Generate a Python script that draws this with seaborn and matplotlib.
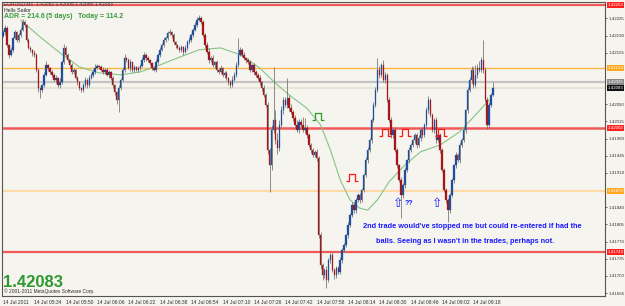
import numpy as np
import pandas as pd
import matplotlib
matplotlib.use("Agg")
import matplotlib.pyplot as plt
import matplotlib.transforms as mtransforms
from matplotlib.path import Path
import seaborn as sns

# ---------------- data (EURUSD M1, 14 Jul 2011, from 05:18) ----------------
first_open = 1.42190
close = [
    1.42197, 1.42206, 1.42171, 1.42151, 1.42161, 1.42185, 1.42197, 1.42181, 1.42191, 1.42202,
    1.42218, 1.42212, 1.42181, 1.42165, 1.42161, 1.42155, 1.42151, 1.42120, 1.42083, 1.42079,
    1.42089, 1.42110, 1.42130, 1.42124, 1.42116, 1.42110, 1.42100, 1.42104, 1.42089, 1.42095,
    1.42136, 1.42165, 1.42151, 1.42140, 1.42130, 1.42116, 1.42120, 1.42104, 1.42095, 1.42083,
    1.42079, 1.42089, 1.42100, 1.42089, 1.42104, 1.42110, 1.42116, 1.42124, 1.42128, 1.42126,
    1.42120, 1.42116, 1.42120, 1.42110, 1.42116, 1.42104, 1.42089, 1.42075, 1.42059, 1.42083,
    1.42100, 1.42120, 1.42144, 1.42140, 1.42124, 1.42136, 1.42120, 1.42126, 1.42120, 1.42124,
    1.42128, 1.42140, 1.42151, 1.42144, 1.42140, 1.42134, 1.42124, 1.42120, 1.42136, 1.42151,
    1.42161, 1.42171, 1.42181, 1.42185, 1.42195, 1.42197, 1.42191, 1.42177, 1.42171, 1.42165,
    1.42161, 1.42167, 1.42157, 1.42165, 1.42177, 1.42181, 1.42191, 1.42202, 1.42212, 1.42222,
    1.42226, 1.42218, 1.42191, 1.42171, 1.42157, 1.42140, 1.42144, 1.42130, 1.42136, 1.42120,
    1.42116, 1.42124, 1.42110, 1.42114, 1.42104, 1.42095, 1.42089, 1.42100, 1.42110, 1.42130,
    1.42151, 1.42161, 1.42151, 1.42144, 1.42140, 1.42136, 1.42120, 1.42130, 1.42116, 1.42110,
    1.42104, 1.42095, 1.42083, 1.42069, 1.42049, 1.41957, 1.41926, 1.41998, 1.42018, 1.41977,
    1.41961, 1.42008, 1.42038, 1.42059, 1.42049, 1.42063, 1.42042, 1.42034, 1.42022, 1.42008,
    1.41998, 1.42014, 1.42008, 1.41998, 1.42002, 1.41987, 1.41967, 1.41957, 1.41947, 1.41953,
    1.41940, 1.41783, 1.41722, 1.41702, 1.41712, 1.41692, 1.41732, 1.41743, 1.41712, 1.41702,
    1.41716, 1.41708, 1.41732, 1.41753, 1.41763, 1.41783, 1.41804, 1.41824, 1.41845, 1.41834,
    1.41855, 1.41865, 1.41855, 1.41875, 1.41906, 1.41936, 1.41957, 1.41977, 1.42018, 1.42049,
    1.42079, 1.42120, 1.42110, 1.42130, 1.42100, 1.42110, 1.42059, 1.42018, 1.41987, 1.41998,
    1.41957, 1.41926, 1.41896, 1.41865, 1.41885, 1.41916, 1.41936, 1.41957, 1.41967, 1.41977,
    1.41987, 1.41967, 1.41981, 1.41998, 1.41987, 1.42008, 1.42038, 1.42059, 1.42028, 1.41998,
    1.42018, 1.41977, 1.41987, 1.41957, 1.41916, 1.41875, 1.41855, 1.41834, 1.41865, 1.41896,
    1.41926, 1.41947, 1.41936, 1.41967, 1.41977, 1.41998, 1.42038, 1.42079, 1.42100, 1.42120,
    1.42089, 1.42110, 1.42124, 1.42120, 1.42140, 1.42120, 1.42059, 1.42008, 1.42049, 1.42069,
    1.42083,
]
upper_wick_pts = [
    4, 6, 3, 2, 5, 3, 4, 2, 5, 6,
    5, 3, 2, 4, 3, 2, 5, 3, 4, 3,
    3, 6, 8, 3, 2, 4, 3, 5, 2, 8,
    5, 7, 3, 4, 2, 5, 3, 2, 4, 3,
    2, 4, 6, 3, 5, 4, 6, 8, 4, 3,
    4, 5, 3, 4, 3, 2, 4, 3, 2, 6,
    4, 5, 8, 3, 4, 6, 3, 4, 3, 5,
    4, 6, 5, 3, 4, 2, 3, 4, 6, 4,
    5, 4, 6, 5, 4, 6, 3, 4, 3, 2,
    4, 3, 2, 5, 4, 6, 5, 4, 6, 5,
    6, 4, 3, 4, 5, 8, 4, 6, 3, 5,
    4, 6, 3, 4, 3, 2, 4, 8, 6, 6,
    34, 5, 4, 6, 3, 5, 4, 3, 4, 3,
    4, 5, 3, 6, 3, 5, 4, 10, 108, 20,
    15, 10, 8, 6, 5, 41, 6, 8, 5, 6,
    10, 6, 5, 16, 20, 6, 4, 5, 3, 4,
    5, 4, 6, 4, 5, 8, 5, 4, 6, 5,
    4, 5, 6, 4, 5, 3, 5, 4, 6, 5,
    4, 5, 3, 5, 4, 6, 5, 4, 3, 5,
    6, 24, 8, 5, 10, 6, 4, 5, 6, 4,
    5, 4, 3, 5, 4, 6, 3, 5, 4, 3,
    5, 4, 6, 3, 5, 4, 6, 8, 4, 5,
    4, 6, 5, 4, 3, 5, 4, 3, 5, 4,
    3, 5, 4, 6, 4, 5, 3, 6, 5, 8,
    6, 20, 8, 14, 6, 41, 6, 5, 6, 4,
    12,
]
lower_wick_pts = [
    3, 5, 4, 6, 3, 4, 2, 5, 3, 4,
    3, 4, 5, 3, 4, 6, 5, 4, 8, 16,
    5, 4, 3, 6, 4, 5, 3, 6, 4, 5,
    3, 4, 5, 3, 6, 4, 5, 3, 6, 4,
    5, 4, 3, 6, 4, 3, 5, 4, 3, 4,
    3, 5, 4, 3, 6, 4, 5, 6, 8, 25,
    4, 3, 5, 4, 3, 6, 4, 5, 3, 4,
    5, 3, 4, 6, 3, 4, 5, 3, 4, 3,
    4, 3, 5, 3, 4, 3, 5, 4, 6, 3,
    5, 4, 6, 3, 4, 5, 3, 4, 3, 4,
    3, 5, 4, 6, 4, 5, 3, 4, 6, 4,
    5, 3, 4, 6, 4, 5, 6, 4, 3, 5,
    4, 3, 5, 4, 6, 3, 5, 4, 6, 5,
    4, 5, 6, 4, 5, 8, 55, 10, 6, 8,
    12, 6, 5, 8, 4, 6, 5, 4, 6, 5,
    4, 6, 5, 4, 6, 5, 4, 6, 5, 4,
    6, 5, 8, 10, 6, 17, 5, 6, 4, 8,
    6, 5, 4, 6, 5, 4, 6, 5, 4, 6,
    5, 4, 6, 5, 4, 5, 6, 4, 5, 4,
    5, 4, 6, 5, 4, 6, 5, 4, 6, 5,
    4, 6, 5, 47, 6, 5, 4, 6, 5, 4,
    5, 6, 4, 5, 6, 4, 5, 6, 4, 5,
    6, 5, 4, 6, 5, 4, 6, 24, 5, 4,
    6, 5, 4, 6, 5, 4, 6, 5, 4, 6,
    5, 4, 6, 5, 4, 6, 5, 8, 6, 5,
    3,
]
# moving average
ma_bar = [9, 19, 29, 39, 49, 60, 70, 80, 90, 100, 111, 121, 131, 139, 146, 155,
          162, 167, 172, 177, 182, 186, 191, 197, 205, 213, 223, 233, 241, 248]
ma_price = [1.42222, 1.42187, 1.42155, 1.42126, 1.42114, 1.42110, 1.42116, 1.42130,
            1.42146, 1.42161, 1.42165, 1.42151, 1.42124, 1.42093, 1.42069, 1.42042,
            1.42008, 1.41957, 1.41896, 1.41855, 1.41838, 1.41834, 1.41855, 1.41892,
            1.41926, 1.41953, 1.41967, 1.41994, 1.42028, 1.42059]

# horizontal levels
level_price = [1.42253, 1.42124, 1.42095, 1.42083, 1.42002, 1.41873, 1.41749]
level_color = ["#f25a5a", "#ffb648", "#c4c4c4", "#e9e4d8", "#f25a5a", "#ffd9a6", "#f25a5a"]
level_width = [1.6, 1.0, 1.6, 1.6, 1.8, 1.6, 1.6]
level_box = ["#ff2020", "#ffa820", "#8a8a8a", "#101010", "#ff2020", "#ffa820", "#ff2020"]

price_ticks = [1.42225, 1.42190, 1.42155, 1.42050, 1.42015, 1.41980, 1.41945,
               1.41910, 1.41840, 1.41805, 1.41770, 1.41735, 1.41700, 1.41665]
time_tick_bars = [0, 16, 32, 48, 64, 80, 96, 112, 128, 144, 160, 176, 192, 208, 224, 240]
time_tick_labels = ["14 Jul 2011", "14 Jul 05:34", "14 Jul 05:50", "14 Jul 06:06",
                    "14 Jul 06:22", "14 Jul 06:38", "14 Jul 06:54", "14 Jul 07:10",
                    "14 Jul 07:26", "14 Jul 07:42", "14 Jul 07:58", "14 Jul 08:14",
                    "14 Jul 08:30", "14 Jul 08:46", "14 Jul 09:02", "14 Jul 09:18"]

# signal marks (bar, price)
green_sig_bar, green_sig_price = [160.7], [1.42024]
red_sig_bar = [178.0, 195.0, 205.0, 223.5]
red_sig_price = [1.41900, 1.41991, 1.41991, 1.41991]
blue_arrow_bar = [201.5, 221.4]
blue_arrow_price = [1.41847, 1.41847]

# ---------------- build frame ----------------
n = len(close)
o = np.array([first_open] + close[:-1])
c = np.array(close)
hi = np.maximum(o, c) + np.array(upper_wick_pts) * 1e-5
lo = np.minimum(o, c) - np.array(lower_wick_pts) * 1e-5
df = pd.DataFrame({"bar": np.arange(n), "open": o, "high": hi, "low": lo, "close": c})
df["dir"] = np.where(df["close"] >= df["open"], "up", "down")

BG = "#f5f4ee"
sns.set_style("white")
plt.rcParams["font.family"] = ["Liberation Sans", "DejaVu Sans"]

W, H = 625, 306
fig = plt.figure(figsize=(W / 100, H / 100), dpi=100, facecolor=BG)
ax = fig.add_axes([2 / W, 10 / H, 603 / W, 294 / H])
ax.set_facecolor(BG)

# levels
for p, col, lw in zip(level_price, level_color, level_width):
    ax.axhline(p, color=col, lw=lw, zorder=1)

# moving average via seaborn
sns.lineplot(x=ma_bar, y=ma_price, ax=ax, color="#86c486", lw=0.8, zorder=2)

# candles
body_col = {"up": "#1d4f9c", "down": "#a3161a"}
ax.vlines(df["bar"], df["low"], df["high"], color="#6e6e6e", lw=0.55, zorder=3)
heights = (df["close"] - df["open"]).to_numpy()
heights = np.where(np.abs(heights) < 1e-5, 1e-5, heights)
cols = [body_col[d] for d in df["dir"]]
ax.bar(df["bar"], heights, bottom=df["open"], width=0.72, color=cols,
       edgecolor=cols, linewidth=0.2, zorder=4)

# signal marks
pulse = Path([(-1, -0.55), (-0.42, -0.55), (-0.42, 0.6), (0.42, 0.6), (0.42, -0.55), (1, -0.55)],
             [Path.MOVETO] + [Path.LINETO] * 5)
ax.plot(green_sig_bar, green_sig_price, ls="none", marker=pulse, ms=9, mfc="none",
        mec="#2aa02a", mew=0.9, zorder=6)
ax.plot(red_sig_bar, red_sig_price, ls="none", marker=pulse, ms=9, mfc="none",
        mec="#ff1a1a", mew=0.9, zorder=6)
for b, p in zip(blue_arrow_bar, blue_arrow_price):
    ax.text(b, p, "\u21e7", color="#1a1aff", fontsize=9, ha="center", va="center",
            family="DejaVu Sans", zorder=6)
ax.text(blue_arrow_bar[0] + 3.2, blue_arrow_price[0], "??", color="#1a1aff", fontsize=5,
        fontweight="bold", ha="left", va="center", zorder=6)

# axes limits / ticks
ax.set_xlim(-0.51, 307.1)
ax.set_ylim(1.416589, 1.422586)
ax.yaxis.tick_right()
ax.set_yticks(price_ticks)
ax.set_yticklabels([f"{p:.5f}" for p in price_ticks])
ax.set_xticks(time_tick_bars)
ax.set_xticklabels(time_tick_labels, ha="left")
ax.tick_params(axis="x", labelsize=3.6, colors="#303030", length=2, width=0.5, pad=1.2)
ax.tick_params(axis="y", labelsize=3.2, colors="#303030", length=1.5, width=0.5, pad=0.8,
               direction="out")
for s in ax.spines.values():
    s.set_color("#555555")
    s.set_linewidth(0.8)
ax.set_xlabel("")
ax.set_ylabel("")

# level boxes on the price scale
tr = mtransforms.blended_transform_factory(ax.transAxes, ax.transData)
for p, bc in zip(level_price, level_box):
    ax.text(1.004, p, f"{p:.5f}", transform=tr, fontsize=3.2, color="white",
            ha="left", va="center", clip_on=False, zorder=10,
            bbox=dict(boxstyle="square,pad=0.2", fc=bc, ec="none"))

# header texts
def fx(x):
    return x / W

def fy(y):
    return 1 - y / H

fig.text(fx(4), fy(3.5), "EURUSD,M1  1.42082 1.42095 1.42080 1.42083", fontsize=3.6,
         color="#404040", ha="left", va="center")
fig.text(fx(4), fy(10.5), "Hells Sailor", fontsize=3.8, color="#202020", ha="left", va="center")
fig.text(fx(4), fy(16.5), "ADR = 214.6", fontsize=5, fontweight="bold",
         color="#3c9c3c", ha="left", va="center")
fig.text(fx(46), fy(16.5), "(5 days)", fontsize=5, fontweight="bold",
         color="#3c9c3c", ha="left", va="center")
fig.text(fx(78), fy(16.5), "Today = 114.2", fontsize=5, fontweight="bold",
         color="#3c9c3c", ha="left", va="center")
fig.text(fx(3), fy(287), "1.42083", fontsize=12, fontweight="bold", color="#2f982f",
         ha="left", va="baseline")
fig.text(fx(4), fy(291.5), "\u00a9 2001-2011 MetaQuotes Software Corp.", fontsize=3.5,
         color="#303030", ha="left", va="center")

# comment
fig.text(fx(363), fy(226.5), "2nd trade would've stopped me but could re-entered if had the",
         fontsize=5.35, fontweight="bold", color="#1a1aff", ha="left", va="center")
fig.text(fx(376), fy(241.5), "balls. Seeing as I wasn't in the trades, perhaps not.",
         fontsize=5.35, fontweight="bold", color="#1a1aff", ha="left", va="center")

fig.savefig("out.png", dpi=100, facecolor=BG)
